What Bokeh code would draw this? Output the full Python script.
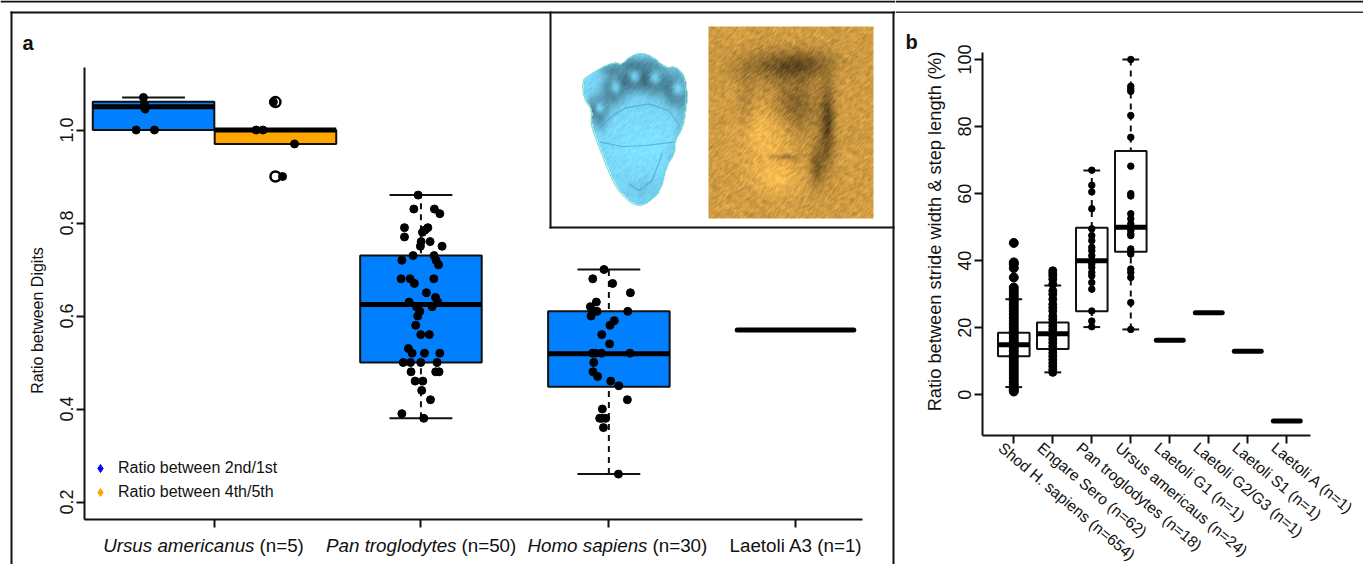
import math
import numpy as np
from bokeh.embed import file_html
from bokeh.resources import INLINE
from bokeh.plotting import figure
from bokeh.layouts import row
from bokeh.models import (BoxAnnotation, FixedTicker, Label, Legend, LegendItem, LinearAxis,
                          NumeralTickFormatter, Range1d)

# ---------- panel a data ----------
a_tick_pos = [0.996, 2.1, 3.105, 4.103]
a_y_ticks = [0.2, 0.4, 0.6, 0.8, 1.0]
a_names_italic = ["Ursus americanus", "Pan troglodytes", "Homo sapiens", ""]
a_names_plain = ["(n=5)", "(n=50)", "(n=30)", "Laetoli A3 (n=1)"]

a_box_center = [0.670, 1.322, 2.1, 3.105]
a_box_color = ["#0080FF", "#FFA500", "#0080FF", "#0080FF"]
a_q1 = [1.00, 0.97, 0.50, 0.448]
a_q3 = [1.061, 1.00, 0.73, 0.61]
a_median = [1.05, 1.00, 0.625, 0.519]
a_wlow = [1.00, 0.97, 0.38, 0.26]
a_whigh = [1.07, 1.00, 0.86, 0.70]
a_single_x = [4.103]
a_single_y = [0.57]
a_out_x = [1.322, 1.322]
a_out_y = [1.06, 0.90]

ursus_x = [0.616, 0.622, 0.625, 0.577, 0.675, 1.219, 1.255, 1.424, 1.311, 1.36]
ursus_y = [1.07, 1.055, 1.045, 1.00, 1.00, 1.00, 1.00, 0.97, 1.06, 0.90]
pan_x = [2.085, 2.062, 2.172, 2.201, 2.012, 2.137, 2.122, 2.108, 2.012, 2.101,
         2.149, 2.097, 2.213, 2.058, 2.17, 1.998, 2.181, 2.194, 1.994, 2.042,
         2.169, 2.065, 2.129, 2.178, 2.037, 2.19, 2.076, 2.16, 2.094, 2.083,
         2.072, 2.099, 2.145, 2.033, 2.053, 2.119, 2.201, 2.005, 2.044, 2.099,
         2.186, 2.047, 2.179, 2.197, 2.069, 2.11, 2.104, 2.151, 1.998, 2.115]
pan_y = [0.86, 0.83, 0.83, 0.82, 0.79, 0.79, 0.785, 0.78, 0.77, 0.76,
         0.76, 0.75, 0.75, 0.73, 0.73, 0.72, 0.72, 0.71, 0.68, 0.68,
         0.68, 0.67, 0.65, 0.64, 0.63, 0.63, 0.62, 0.62, 0.61, 0.60,
         0.58, 0.56, 0.56, 0.53, 0.52, 0.52, 0.52, 0.50, 0.50, 0.50,
         0.50, 0.48, 0.48, 0.48, 0.46, 0.46, 0.44, 0.42, 0.39, 0.38]
homo_x = [3.079, 3.019, 3.125, 3.22, 3.038, 3.006, 3.02, 3.042, 3.206, 3.01,
          3.134, 3.111, 3.067, 3.109, 3.017, 3.033, 3.065, 3.218, 3.024, 3.02,
          3.045, 3.115, 3.158, 3.204, 3.07, 3.056, 3.088, 3.067, 3.076, 3.156]
homo_y = [0.70, 0.68, 0.67, 0.65, 0.63, 0.62, 0.61, 0.61, 0.61, 0.60,
          0.59, 0.58, 0.56, 0.54, 0.52, 0.52, 0.52, 0.52, 0.50, 0.48,
          0.47, 0.46, 0.45, 0.42, 0.40, 0.38, 0.38, 0.38, 0.36, 0.26]
legend_labels = ["Ratio between 2nd/1st", "Ratio between 4th/5th"]
legend_colors = ["#0000FF", "#FFA500"]

# ---------- panel b data ----------
b_names = ["Shod H. sapiens (n=654)", "Engare Sero (n=62)", "Pan troglodytes (n=18)",
           "Ursus americaus (n=24)", "Laetoli G1 (n=1)", "Laetoli G2/G3 (n=1)",
           "Laetoli S1 (n=1)", "Laetoli A (n=1)"]
b_y_ticks = [0, 20, 40, 60, 80, 100]
b_pos = [1, 2, 3, 4]
b_q1 = [11.5, 13.7, 24.9, 42.7]
b_q3 = [18.5, 21.6, 49.8, 72.7]
b_median = [14.9, 18.2, 40.0, 50.0]
b_wlow = [2.3, 6.7, 20.2, 19.5]
b_whigh = [28.5, 32.6, 66.9, 100.0]
b_single_x = [5, 6, 7, 8]
b_single_y = [16.3, 24.5, 13.0, -7.8]

shod_y = [1, 1.5, 2, 3, 4, 5, 6, 7, 8, 9, 10, 11, 12, 13, 14, 15, 16, 17, 18, 19, 20, 21, 22,
          23, 24, 25, 26, 27, 28, 29, 30, 31, 32, 35, 37.8, 39, 39.5, 45.3]
engare_y = [6.7, 7.5, 8.5, 9.5, 10.5, 11.5, 12.5, 13.5, 14.5, 15.5, 16.5, 17.5, 18.5, 19.5,
            20.5, 21.5, 22.5, 23.5, 25, 26, 27, 28.5, 30, 31, 33, 34.5, 35.5, 36.3, 37]
pantro_y = [67, 62.5, 60.5, 55.5, 49.5, 47.5, 46, 44, 43, 41.5, 40, 39, 38, 36.5, 35.5, 33.5,
            31.5, 25, 22, 20.3]
ursus_b_y = [100, 92, 91.2, 90.5, 83.3, 76.8, 68.2, 60, 59.3, 54, 52.5, 51, 50, 49, 48, 47.5,
             43.5, 42.8, 42, 37.5, 36.5, 35, 27.5, 19.5]

# ---------- layout constants ----------
W_A, W_B, H = 895, 468, 564
FONT = "Liberation Sans"
INK = "#111111"


def txt(p, x, y, s, size, style="normal", align="left", angle=0, baseline="middle"):
    p.add_layout(Label(x=x, y=y, x_units="canvas", y_units="canvas", text=s,
                       text_font=FONT, text_font_size=size, text_font_style=style,
                       text_align=align, text_baseline=baseline, angle=angle,
                       text_color=INK))


def rule(p, l, r, t, b, color=INK):
    p.add_layout(BoxAnnotation(left=l, right=r, top=t, bottom=b,
                               left_units="canvas", right_units="canvas",
                               top_units="canvas", bottom_units="canvas",
                               fill_color=color, fill_alpha=1, line_color=None,
                               level="overlay"))


def style_axis(ax):
    ax.axis_line_width = 2
    ax.axis_line_color = INK
    ax.major_tick_line_width = 2
    ax.major_tick_line_color = INK
    ax.major_tick_out = 8
    ax.major_tick_in = 0
    ax.minor_tick_line_color = None
    ax.major_label_text_font = FONT
    ax.major_label_text_color = INK
    ax.major_label_text_font_size = "18px"
    ax.major_label_standoff = 3


def base(width, xr, yr):
    p = figure(width=width, height=H, x_range=Range1d(*xr), y_range=Range1d(*yr),
               min_border=0, x_axis_location=None, y_axis_location=None,
               output_backend="svg", toolbar_location=None,
               frame_align=False, background_fill_color="white", border_fill_color="white")
    p.outline_line_color = None
    p.grid.visible = False
    return p


def chaikin(pts, rounds=1):
    pts = np.asarray(pts, float)
    for _ in range(rounds):
        nxt = np.roll(pts, -1, axis=0)
        pts = np.column_stack([0.75 * pts + 0.25 * nxt, 0.25 * pts + 0.75 * nxt]).reshape(-1, 2)
    return pts


def in_poly(x, y, poly):
    inside = np.zeros_like(x, dtype=bool)
    px, py = poly[:, 0], poly[:, 1]
    qx, qy = np.roll(px, -1), np.roll(py, -1)
    for a, b, c, d in zip(px, py, qx, qy):
        cond = ((b > y) != (d > y)) & (x < (c - a) * (y - b) / (d - b + 1e-9) + a)
        inside ^= cond
    return inside


def texture(gx, gy, amount, streak=1):
    g = np.modf(np.abs(np.sin(gx * 12.9898 + gy * 78.233)) * 43758.5453)[0] - 0.5
    out = g.copy()
    for k in range(1, streak + 1):
        out += np.roll(np.roll(g, k, 0), k, 1) + np.roll(np.roll(g, -k, 0), -k, 1)
    return amount * out / (2 * streak + 1) * 2.2


def paint(gx, gy, shade, rgb, mask=None):
    h, w = gx.shape
    arr = np.zeros((h, w, 4), dtype=np.uint8)
    for i in range(3):
        arr[..., i] = np.clip(rgb[i] * shade, 0, 255)
    arr[..., 3] = 255 if mask is None else mask * 255
    return arr.view(dtype=np.uint32).reshape(h, w)


def add_blobs(gx, gy, shade, blobs):
    for bx_, by_, sx, sy, amp in blobs:
        shade = shade + amp * np.exp(-((gx - bx_) / sx) ** 2 - ((gy - by_) / sy) ** 2)
    return shade


# ---------- panel a : the frame is the whole canvas, axes sit at fixed data locations ----------
pa = base(W_A, (-0.1484, 4.6378), (0.0656, 1.2785))
fx = lambda px: 0.996 + (np.asarray(px, float) - 214) / 187.0
fy = lambda py: 1.0 - (np.asarray(py, float) - 129.5) / 465.0

xa = LinearAxis(fixed_location=float(fy(519)), ticker=FixedTicker(ticks=a_tick_pos),
                major_label_overrides={t: "" for t in a_tick_pos},
                bounds=(float(fx(84)), float(fx(862))))
style_axis(xa)
pa.add_layout(xa, "below")
ya = LinearAxis(fixed_location=float(fx(84)), ticker=FixedTicker(ticks=a_y_ticks),
                formatter=NumeralTickFormatter(format="0.0"),
                bounds=(float(fy(519)), float(fy(67))))
style_axis(ya)
ya.major_label_orientation = "vertical"
pa.add_layout(ya, "left")

bw, cw = 0.325, 0.168
single_bw = bw - 0.013
pa.segment(a_box_center, a_wlow, a_box_center, a_whigh, line_color=INK, line_width=2,
           line_dash="6 5")
pa.quad(left=[c - bw for c in a_box_center], right=[c + bw for c in a_box_center],
        bottom=a_q1, top=a_q3, fill_color=a_box_color, line_color=INK, line_width=2)
for w in (a_wlow, a_whigh):
    pa.segment([c - cw for c in a_box_center], w, [c + cw for c in a_box_center], w,
               line_color=INK, line_width=2)
pa.segment([c - bw for c in a_box_center], a_median, [c + bw for c in a_box_center], a_median,
           line_color="black", line_width=5)
pa.segment([c - single_bw for c in a_single_x], a_single_y,
           [c + single_bw for c in a_single_x], a_single_y,
           line_color="black", line_width=5, line_cap="round")
pa.scatter(a_out_x, a_out_y, size=10, fill_color="white", line_color="black", line_width=2.5)
pa.scatter(ursus_x, ursus_y, size=8, color="black")
pa.scatter(pan_x, pan_y, size=8, color="black")
pa.scatter(homo_x, homo_y, size=8, color="black")

# inset: the two footprint casts are illustrations, painted as images
zx = lambda z: 545 + np.asarray(z, float) / 3
zy = lambda z: 10 + np.asarray(z, float) / 3
foot = [(110, 210), (130, 195), (180, 165), (210, 157), (225, 165), (250, 140), (285, 127),
        (320, 140), (360, 175), (385, 168), (415, 195), (422, 260), (418, 300), (410, 350),
        (385, 395), (385, 430), (360, 470), (345, 540), (310, 575), (280, 588), (245, 570),
        (210, 530), (180, 460), (155, 395), (135, 340), (140, 300), (115, 265)]
outline = chaikin([(float(zx(a)), float(zy(b))) for a, b in foot])
fw, fh = 120, 170
fox, foy = 576.0, 212.0
fgx, fgy = np.meshgrid(np.arange(fw) + fox, foy - np.arange(fh))
fshade = 1.0 + texture(fgx, fgy, 0.09, 1)
toes = [(597, 109, 8, 10), (613, 88, 9, 12), (632, 78, 10, 11), (652, 79, 10, 12), (675, 90, 11, 13)]
toe_blobs = []
for tx, ty, rx, ry in toes:
    toe_blobs.append((tx, ty, rx * 1.15, ry * 1.15, -0.62))
    toe_blobs.append((tx + 1, ty - 1, rx * 0.62, ry * 0.62, 0.62))
fshade = add_blobs(fgx, fgy, fshade, toe_blobs + [
    (632, 63, 26, 6, -0.22), (608, 70, 10, 5, -0.22), (642, 148, 32, 22, 0.05),
    (642, 190, 16, 14, -0.07), (600, 125, 6, 7, -0.14), (680, 130, 6, 28, -0.10),
    (672, 165, 6, 18, -0.12)])
fmask = in_poly(fgx, fgy, outline)
pa.image_rgba(image=[paint(fgx, fgy, fshade, (122, 216, 250), fmask)], x=float(fx(fox)),
              y=float(fy(foy)), dw=float(fx(fox + fw) - fx(fox)), dh=float(fy(foy - fh) - fy(foy)))
pa.patch(fx(outline[:, 0]), fy(outline[:, 1]), fill_color=None, line_color="#6FD8C8", line_width=1)
for crease in [[(165, 350), (200, 318), (240, 292), (310, 280), (370, 300), (402, 345)],
               [(165, 395), (230, 408), (300, 405), (385, 395)],
               [(250, 520), (280, 540), (320, 510), (350, 430)]]:
    pa.line(fx(zx([q[0] for q in crease])), fy(zy([q[1] for q in crease])),
            line_color="#4F9FC4", line_width=1.2, line_alpha=0.7)

gw, gh = 165, 192
gx, gy = np.meshgrid(np.arange(gw) + 708.0, 218.0 - np.arange(gh))
shade = 0.97 + texture(gx, gy, 0.20, 1) + 0.02 * np.sin(0.37 * gx - 0.51 * gy)
shade = add_blobs(gx, gy, shade, [
    (778, 67, 42, 16, -0.36), (805, 62, 28, 12, -0.20), (795, 105, 24, 28, -0.34),
    (826, 125, 7, 40, -0.50), (815, 165, 7, 22, -0.40), (745, 100, 9, 28, -0.15),
    (765, 135, 24, 30, 0.20), (775, 178, 20, 15, 0.18), (785, 157, 14, 3, -0.30)])
pa.image_rgba(image=[paint(gx, gy, shade, (216, 162, 70))], x=float(fx(708)), y=float(fy(218)),
              dw=float(fx(873) - fx(708)), dh=float(fy(26) - fy(218)))

# legend
legend_rs = [pa.scatter([-1], [-1], marker="diamond", size=12, color=c) for c in legend_colors]
legend = Legend(items=[LegendItem(label=l, renderers=[r]) for l, r in zip(legend_labels, legend_rs)],
                location=(90, 60), border_line_color=None, background_fill_alpha=0,
                margin=0, padding=0, spacing=0, glyph_width=20, glyph_height=24,
                label_height=24, label_standoff=8, label_text_font=FONT,
                label_text_font_size="16px", label_text_color=INK)
pa.add_layout(legend, "center")

# texts
txt(pa, 22, 42, "a", "20px", "bold")
txt(pa, 37, 320, "Ratio between Digits", "16px", angle=math.pi / 2, align="center")
for nm_i, nm_p, jx in zip(a_names_italic, a_names_plain, [254, 456, 647, None]):
    if nm_i:
        txt(pa, jx, 545, nm_i, "18.8px", "italic", align="right")
        txt(pa, jx + 5, 545, nm_p, "18.8px")
    else:
        txt(pa, 729, 545, nm_p, "18.8px")

# panel rules
rule(pa, 0, W_A, 0, 2)
rule(pa, 10, W_A, 11, 13)
rule(pa, 10, 12, 11, H)
rule(pa, 892, 894, 11, H)
rule(pa, 549, 551, 11, 228)
rule(pa, 549, 894, 226, 228)

# ---------- panel b ----------
pb = base(W_B, (-2.033, 9.967), (-50.6, 117.6))
bx = lambda px: 1 + (px - 1013.3) / 39.0
by = lambda py: (394.3 - py) / 3.353
tick_b = [i + 1 for i in range(len(b_names))]
xb = LinearAxis(fixed_location=by(435), ticker=FixedTicker(ticks=tick_b),
                major_label_overrides={t: "" for t in tick_b}, bounds=(bx(982), bx(1310)))
style_axis(xb)
pb.add_layout(xb, "below")
yb = LinearAxis(fixed_location=bx(982), ticker=FixedTicker(ticks=b_y_ticks),
                bounds=(by(435), by(52)))
style_axis(yb)
yb.major_label_orientation = "vertical"
pb.add_layout(yb, "left")

hw, chw = 0.405, 0.215
single_hw = hw - 0.06
pb.segment(b_pos, b_wlow, b_pos, b_whigh, line_color=INK, line_width=2, line_dash="6 5")
pb.quad(left=[c - hw for c in b_pos], right=[c + hw for c in b_pos], bottom=b_q1, top=b_q3,
        fill_color="white", line_color=INK, line_width=2)
for w in (b_wlow, b_whigh):
    pb.segment([c - chw for c in b_pos], w, [c + chw for c in b_pos], w,
               line_color=INK, line_width=2)
pb.segment([c - hw for c in b_pos], b_median, [c + hw for c in b_pos], b_median,
           line_color="black", line_width=5)
pb.segment([c - single_hw for c in b_single_x], b_single_y,
           [c + single_hw for c in b_single_x], b_single_y,
           line_color="black", line_width=5, line_cap="round")
pb.scatter([b_pos[0]] * len(shod_y), shod_y, size=9, color="black")
pb.scatter([b_pos[1]] * len(engare_y), engare_y, size=8, color="black")
pb.scatter([b_pos[2]] * len(pantro_y), pantro_y, size=6.5, color="black")
pb.scatter([b_pos[3]] * len(ursus_b_y), ursus_b_y, size=6.5, color="black")

txt(pb, 10, 41, "b", "20px", "bold")
txt(pb, 39, 231, "Ratio between stride width & step length (%)", "18.3px",
    angle=math.pi / 2, align="center")
for t, nm in zip(tick_b, b_names):
    pb.add_layout(Label(x=t, y=445, x_units="data", y_units="canvas", x_offset=-13, text=nm,
                        text_font=FONT, text_font_size="15.6px", text_align="left",
                        text_baseline="middle", angle=-0.70, text_color=INK))
rule(pb, 0, W_B, 0, 2)
rule(pb, 0, W_B, 11, 12.5, "#333333")

page = row(pa, pb, spacing=0)
open("out.html", "w").write(file_html(page, INLINE))
